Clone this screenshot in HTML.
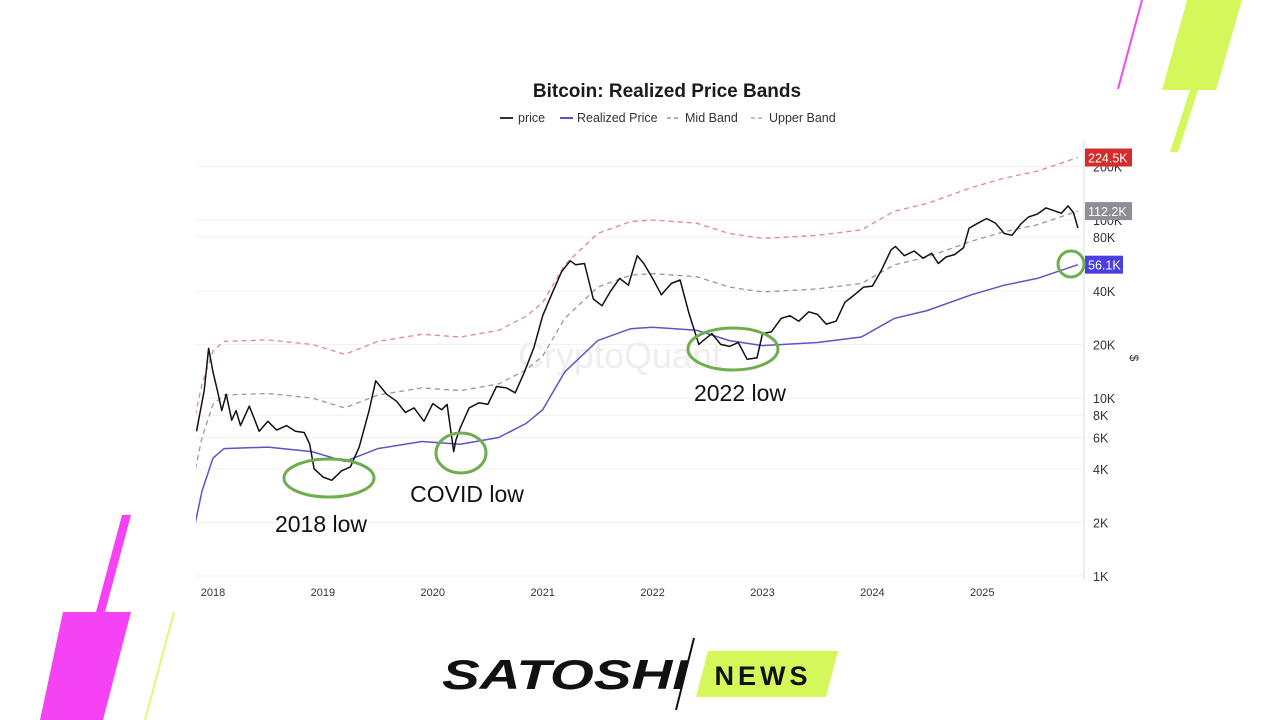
<!DOCTYPE html>
<html><head><meta charset="utf-8"><style>
body{margin:0;width:1280px;height:720px;background:#fff;overflow:hidden;font-family:"Liberation Sans",sans-serif}
svg{position:absolute;left:0;top:0}
</style></head><body>
<svg id="chart" width="1280" height="720" viewBox="0 0 1280 720">
<defs><clipPath id="plotclip"><rect x="196" y="130" width="888" height="460"/></clipPath></defs>
<polygon points="122,515 131,515 105,612 96,612" fill="#f542f5"/>
<polygon points="63,612 131,612 103,720 40,720" fill="#f542f5"/>
<line x1="174" y1="612" x2="145" y2="720" stroke="#e6f57a" stroke-width="2"/>
<line x1="1142" y1="0" x2="1118" y2="89" stroke="#f04af0" stroke-width="2"/>
<polygon points="1187,0 1242,0 1216,90 1162,90" fill="#d4f75a"/>
<polygon points="1190,90 1198,90 1178,152 1170,152" fill="#d4f75a"/>
<text x="667" y="97" text-anchor="middle" font-size="19" font-weight="bold" fill="#1a1a1a">Bitcoin: Realized Price Bands</text>
<g font-size="12.5" fill="#333">
<g><line x1="500" y1="118" x2="513" y2="118" stroke="#333" stroke-width="2"/><text x="518" y="122">price</text></g>
<g><line x1="560" y1="118" x2="573" y2="118" stroke="#5a55c8" stroke-width="2"/><text x="577" y="122">Realized Price</text></g>
<g><line x1="667" y1="118" x2="681" y2="118" stroke="#999" stroke-width="1.5" stroke-dasharray="4,3"/><text x="685" y="122">Mid Band</text></g>
<g><line x1="751" y1="118" x2="765" y2="118" stroke="#d99" stroke-width="1.5" stroke-dasharray="4,3"/><text x="769" y="122">Upper Band</text></g>
</g>
<g id="grid"></g>
<text x="620" y="368" text-anchor="middle" font-size="36" fill="#eee">CryptoQuant</text>
<g id="series" clip-path="url(#plotclip)"></g>
<line x1="1084" y1="140" x2="1084" y2="580" stroke="#ddd" stroke-width="1"/>
<g id="axes" font-size="12.5" fill="#333"></g>
<text transform="translate(1130,358) rotate(90)" text-anchor="middle" font-size="12" fill="#333">$</text>
<g fill="none" stroke="#6fae4e" stroke-width="3">
<ellipse cx="329" cy="478" rx="45" ry="19"/>
<ellipse cx="461" cy="453" rx="25" ry="20"/>
<ellipse cx="733" cy="349" rx="45" ry="21"/>
<circle cx="1071" cy="264" r="13"/>
</g>
<g font-size="23" fill="#111" text-anchor="middle">
<text x="321" y="532">2018 low</text>
<text x="467" y="502">COVID low</text>
<text x="740" y="401">2022 low</text>
</g>
<g>
<text x="442" y="689" font-size="42" font-weight="bold" font-style="italic" fill="#111" textLength="246" lengthAdjust="spacingAndGlyphs">SATOSHI</text>
<line x1="694" y1="638" x2="676" y2="710" stroke="#111" stroke-width="2"/>
<polygon points="708,651 838,651 826,697 696,697" fill="#d4f75a"/>
<text x="763" y="685" text-anchor="middle" font-size="27" font-weight="bold" fill="#111" letter-spacing="4">NEWS</text>
</g>
</svg>
<script>
const priceDates=[2017.85,2017.92,2017.96,2018.0,2018.04,2018.08,2018.12,2018.17,2018.21,2018.25,2018.33,2018.42,2018.5,2018.58,2018.67,2018.75,2018.83,2018.88,2018.92,2018.96,2019.0,2019.08,2019.17,2019.25,2019.33,2019.42,2019.48,2019.58,2019.67,2019.75,2019.83,2019.92,2020.0,2020.08,2020.13,2020.19,2020.21,2020.25,2020.33,2020.42,2020.5,2020.58,2020.67,2020.75,2020.83,2020.92,2021.0,2021.08,2021.17,2021.25,2021.3,2021.38,2021.46,2021.54,2021.62,2021.7,2021.78,2021.86,2021.92,2022.0,2022.08,2022.17,2022.25,2022.33,2022.42,2022.46,2022.54,2022.62,2022.7,2022.78,2022.86,2022.95,2023.0,2023.08,2023.17,2023.25,2023.33,2023.42,2023.5,2023.58,2023.67,2023.75,2023.83,2023.92,2024.0,2024.08,2024.17,2024.21,2024.29,2024.38,2024.46,2024.54,2024.6,2024.67,2024.75,2024.83,2024.88,2024.96,2025.04,2025.12,2025.2,2025.27,2025.35,2025.42,2025.5,2025.58,2025.65,2025.72,2025.78,2025.83,2025.87];
const priceValues=[6500,11000,19000,14000,11000,8500,10500,7500,8500,7000,9000,6500,7400,6600,7000,6500,6400,5500,4000,3800,3600,3450,3900,4100,5300,8500,12500,10500,9600,8300,8800,7400,9300,8600,9200,5000,5800,6800,8800,9400,9200,11600,11400,10700,13800,19200,29000,38000,51000,59000,56000,57000,36000,33000,40000,47000,43000,63000,57000,47000,38000,44000,46000,30000,20000,21000,23000,20000,19500,20500,16500,16800,23000,23500,28000,29000,27000,30500,29500,26000,27000,34500,37700,42000,42500,52000,68000,71000,63000,67000,61000,65000,57000,62000,64000,70000,90000,96000,102000,96000,84000,82000,95000,104000,108000,117000,113000,109000,120000,110000,90000];
const rpDates=[2017.84,2017.9,2018.0,2018.1,2018.5,2018.9,2019.2,2019.5,2019.9,2020.25,2020.6,2020.85,2021.0,2021.2,2021.5,2021.8,2022.0,2022.4,2022.7,2023.0,2023.5,2023.9,2024.2,2024.5,2024.9,2025.2,2025.5,2025.87];
const rpValues=[2000,3000,4600,5200,5300,5000,4400,5200,5700,5500,6000,7200,8600,14000,21000,24500,25000,24000,21000,19700,20500,22000,28000,31000,38000,43000,47000,56100];
const yTicks=[1000,2000,4000,6000,8000,10000,20000,40000,80000,100000,200000];
const yTickLabels=["1K","2K","4K","6K","8K","10K","20K","40K","80K","100K","200K"];
const xTicks=[2018,2019,2020,2021,2022,2023,2024,2025];
const midMult=2, upperMult=4;

const X=t=>213+(t-2018)*109.9;
const Y=v=>576-178*Math.log10(v/1000);
const NS="http://www.w3.org/2000/svg";
function mk(tag,parent,attrs){const e=document.createElementNS(NS,tag);for(const k in attrs)e.setAttribute(k,attrs[k]);parent.appendChild(e);return e;}
const grid=document.getElementById('grid'),series=document.getElementById('series'),axes=document.getElementById('axes');
yTicks.forEach((v,i)=>{
  const g=mk('line',grid,{x1:196,x2:1084,y1:Y(v),y2:Y(v),stroke:'#f0f0f0','stroke-width':1});
  
  
  const t=mk('text',axes,{x:1093,y:Y(v)+5});
  t.textContent=yTickLabels[i];
  
  
});
xTicks.forEach(v=>{
  const t=mk('text',axes,{x:X(v),y:596,'text-anchor':'middle','font-size':'11'});
  t.textContent=v;
  
  
});
const pts=(d,v,m)=>d.map((t,i)=>X(t).toFixed(1)+','+Y(v[i]*m).toFixed(1)).join(' ');
const up=mk('polyline',series,{points:pts(rpDates,rpValues,upperMult),fill:'none',stroke:'#e08a8a','stroke-width':1.3,'stroke-dasharray':'5,4'});


const mid=mk('polyline',series,{points:pts(rpDates,rpValues,midMult),fill:'none',stroke:'#999','stroke-width':1.3,'stroke-dasharray':'5,4'});


const rp=mk('polyline',series,{points:pts(rpDates,rpValues,1),fill:'none',stroke:'#5a55c8','stroke-width':1.5});


const pr=mk('polyline',series,{points:pts(priceDates,priceValues,1),fill:'none',stroke:'#111','stroke-width':1.5,'stroke-linejoin':'round'});


const last=rpValues[rpValues.length-1];
[[last*upperMult,'#d62b2b','224.5K','upper-band-value-tag'],[last*midMult,'#8e8e96','112.2K','mid-band-value-tag'],[last,'#4b3fe0','56.1K','realized-price-value-tag']].forEach(([v,c,l,n])=>{
  const y=Y(v);
  const r=mk('rect',axes,{x:1085,y:y-9,width:l.length>5?47:38,height:18,fill:c});
  
  
  const t=mk('text',axes,{x:1088,y:y+5,fill:'#fff'});
  t.textContent=l;
  
  
});
</script>
</body></html>
